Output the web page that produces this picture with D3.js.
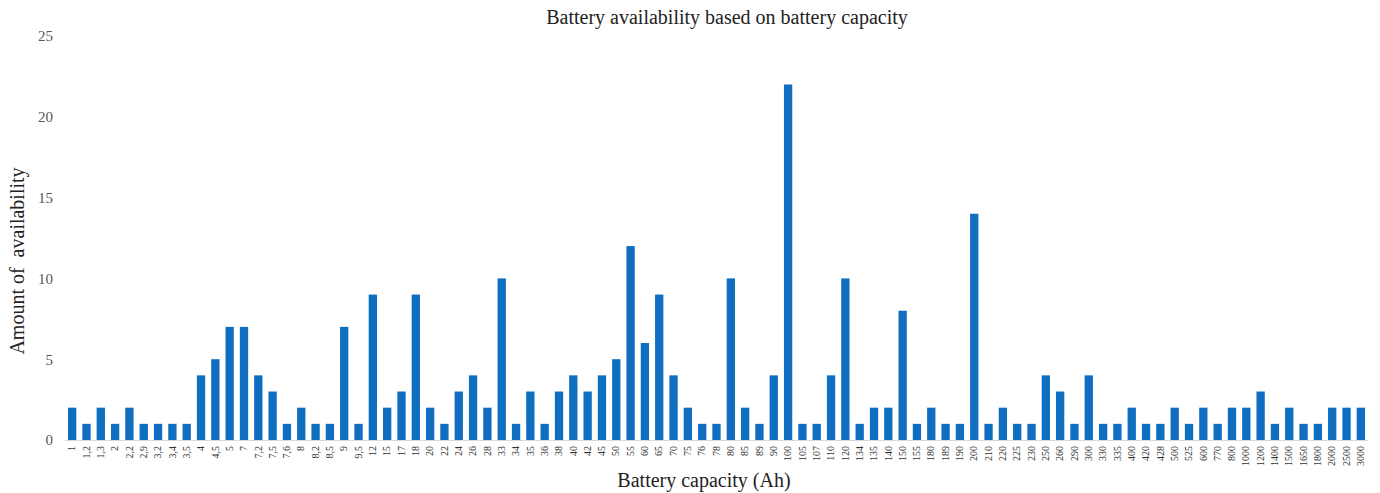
<!DOCTYPE html>
<html>
<head>
<meta charset="utf-8">
<script src="https://cdn.jsdelivr.net/npm/d3@7/dist/d3.min.js"></script>
<style>
  html, body { margin: 0; padding: 0; background: #fff; }
  svg { display: block; }
</style>
</head>
<body>
<svg id="chart" width="1380" height="493"></svg>
<script>
const categories = ["1","1,2","1,3","2","2,2","2,9","3,2","3,4","3,5","4","4,5","5","7","7,2","7,5","7,6","8","8,2","8,5","9","9,5","12","15","17","18","20","22","24","26","28","33","34","35","36","38","40","42","45","50","55","60","65","70","75","76","78","80","85","89","90","100","105","107","110","120","134","135","140","150","155","180","189","190","200","210","220","225","230","250","260","290","300","330","335","400","420","428","500","525","600","770","800","1000","1200","1400","1500","1650","1800","2000","2500","3000"];
const values = [2,1,2,1,2,1,1,1,1,4,5,7,7,4,3,1,2,1,1,7,1,9,2,3,9,2,1,3,4,2,10,1,3,1,3,4,3,4,5,12,6,9,4,2,1,1,10,2,1,4,22,1,1,4,10,1,2,2,8,1,2,1,1,14,1,2,1,1,4,3,1,4,1,1,2,1,1,2,1,2,1,2,2,3,1,2,1,1,2,2,2];
const yTicks = [0,5,10,15,20,25];
const title = "Battery availability based on battery capacity";
const xTitle = "Battery capacity (Ah)";
const yTitle = "Amount of  availability";

const svg = d3.select("#chart");
const m = {left: 65, right: 12, top: 36, bottom: 53};
const W = 1380, H = 493;
const x = d3.scaleBand().domain(categories).range([m.left, W - m.right]).paddingInner(0.42).paddingOuter(0.21);
const y = d3.scaleLinear().domain([0, 25]).range([H - m.bottom, m.top]);

const font = "'Liberation Serif', 'Times New Roman', serif";

// baseline
svg.append("line")
  .attr("x1", m.left).attr("x2", W - m.right)
  .attr("y1", y(0) + 0.5).attr("y2", y(0) + 0.5)
  .attr("stroke", "#d9d9d9").attr("stroke-width", 1);

// bars
svg.append("g").selectAll("rect").data(values).join("rect")
  .attr("x", (d, i) => x(categories[i]))
  .attr("width", x.bandwidth())
  .attr("y", d => y(d))
  .attr("height", d => y(0) - y(d))
  .attr("fill", "#0f6ec0");

// y axis
const ya = svg.append("g").attr("transform", `translate(${m.left},0)`)
  .call(d3.axisLeft(y).tickValues(yTicks).tickSize(0).tickPadding(12));
ya.select(".domain").remove();
ya.selectAll("text").attr("font-family", font).attr("font-size", 15).attr("fill", "#595959");

// x axis labels
const xa = svg.append("g").attr("transform", `translate(0,${y(0)})`)
  .call(d3.axisBottom(x).tickSize(0));
xa.select(".domain").remove();
xa.selectAll("text")
  .attr("font-family", font).attr("font-size", 10).attr("fill", "#333")
  .attr("transform", "rotate(-90)")
  .attr("text-anchor", "end")
  .attr("dy", "0.32em")
  .attr("x", -6).attr("y", 0);

// titles
svg.append("text").attr("x", 727).attr("y", 24).attr("text-anchor", "middle")
  .attr("font-family", font).attr("font-size", 20).attr("fill", "#222").text(title);
svg.append("text").attr("x", 704).attr("y", 487).attr("text-anchor", "middle")
  .attr("font-family", font).attr("font-size", 20).attr("fill", "#222").text(xTitle);
svg.append("text").attr("transform", "translate(24,261) rotate(-90)").attr("text-anchor", "middle")
  .attr("font-family", font).attr("font-size", 20).attr("fill", "#222")
  .style("white-space", "pre").text(yTitle);
</script>
</body>
</html>
